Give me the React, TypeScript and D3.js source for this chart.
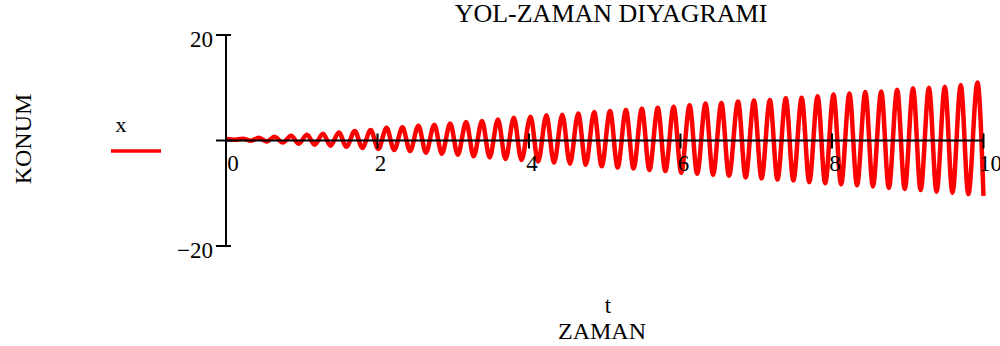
import * as d3 from "d3";

// peaks and troughs of the x(t) trace
const peakTimes = [0, 0.22, 0.43, 0.64, 0.86, 1.07, 1.28, 1.49, 1.7, 1.91, 2.12, 2.33, 2.54, 2.75, 2.96, 3.17, 3.38, 3.59, 3.8, 4.02, 4.23, 4.44, 4.65, 4.86, 5.07, 5.28, 5.49, 5.7, 5.91, 6.12, 6.33, 6.54, 6.76, 6.97, 7.18, 7.39, 7.6, 7.81, 8.02, 8.23, 8.44, 8.65, 8.86, 9.07, 9.28, 9.49, 9.7, 9.92];
const peakValues = [0.3, 0.35, 0.5, 0.7, 0.9, 1.1, 1.3, 1.5, 1.8, 2.0, 2.4, 2.5, 2.8, 3.0, 3.2, 3.5, 3.7, 4.0, 4.3, 4.5, 4.8, 4.9, 5.1, 5.4, 5.6, 5.8, 6.0, 6.2, 6.4, 6.7, 7.0, 7.1, 7.4, 7.6, 7.7, 8.0, 8.1, 8.4, 8.7, 8.9, 9.2, 9.3, 9.6, 9.9, 10.0, 10.2, 10.5, 11.0];
const troughTimes = [0.12, 0.33, 0.54, 0.75, 0.96, 1.17, 1.38, 1.59, 1.8, 2.01, 2.22, 2.43, 2.64, 2.85, 3.06, 3.27, 3.48, 3.69, 3.9, 4.12, 4.33, 4.54, 4.75, 4.96, 5.17, 5.38, 5.59, 5.8, 6.01, 6.22, 6.43, 6.64, 6.86, 7.07, 7.28, 7.49, 7.7, 7.91, 8.12, 8.33, 8.54, 8.75, 8.96, 9.17, 9.38, 9.59, 9.8, 10.0];
const troughValues = [0.15, -0.05, -0.2, -0.4, -0.6, -0.8, -1.0, -1.2, -1.4, -1.6, -1.8, -2.0, -2.3, -2.5, -2.7, -3.0, -3.2, -3.5, -3.7, -4.0, -4.2, -4.4, -4.6, -4.9, -5.1, -5.3, -5.6, -5.8, -6.1, -6.3, -6.5, -6.7, -7.0, -7.2, -7.4, -7.6, -7.9, -8.1, -8.3, -8.5, -8.7, -9.0, -9.2, -9.4, -9.7, -9.9, -10.2, -10.5];

const xTicks = [0, 2, 4, 6, 8, 10];
const yTicks = [-20, 0, 20];
const yLabels = [-20, 20];

const width = 1000;
const height = 346;
const font = "Liberation Serif, Tinos, Times New Roman, Times, DejaVu Serif, serif";

export default function App() {
  const x = d3.scaleLinear().domain([0, 10]).range([226, 983.5]);
  const y = d3.scaleLinear().domain([-20, 20]).range([246, 35]);

  const points: [number, number][] = [];
  peakTimes.forEach((t, i) => {
    points.push([t, peakValues[i]]);
    if (i < troughTimes.length) points.push([troughTimes[i], troughValues[i]]);
  });
  points.sort((a, b) => a[0] - b[0]);

  const line = d3.line<[number, number]>()
    .x(d => x(d[0]))
    .y(d => y(d[1]))
    .curve(d3.curveMonotoneX);

  const x0 = x(0);
  const y0 = y(0);
  const txt = { fontFamily: font };

  return (
    <svg width={width} height={height} style={{ position: "absolute", left: 0, top: 0 }}>
      <rect width={width} height={height} fill="#fff" />

      <text x={611} y={22} textAnchor="middle" style={txt} fontSize={26}>YOL-ZAMAN DIYAGRAMI</text>

      <path d={line(points) || ""} fill="none" stroke="#ff0000" strokeWidth={4.5} strokeLinejoin="round" />

      {/* axes */}
      <line x1={x0} x2={x0} y1={y(20)} y2={y(-20)} stroke="#000" strokeWidth={2} />
      <line x1={x0} x2={x(10)} y1={y0} y2={y0} stroke="#000" strokeWidth={2} />
      {yTicks.map(v => (
        <line key={v} x1={x0 - 10} x2={x0 + 5} y1={y(v)} y2={y(v)} stroke="#000" strokeWidth={2} />
      ))}
      {xTicks.filter(v => v > 0).map(v => (
        <line key={v} x1={x(v)} x2={x(v)} y1={y0 - 7} y2={y0 + 8} stroke="#000" strokeWidth={2} />
      ))}
      {yLabels.map(v => (
        <text key={v} x={x0 - 13} y={y(v) + 12} textAnchor="end" style={txt} fontSize={23}>
          {v < 0 ? "\u2212" + Math.abs(v) : v}
        </text>
      ))}
      {xTicks.map((v, i) => (
        <text key={v} x={x(v) + (i === 0 || i === xTicks.length - 1 ? 7 : 3)} y={171}
          textAnchor="middle" style={txt} fontSize={23}>{v}</text>
      ))}

      {/* legend */}
      <text x={121} y={132} textAnchor="middle" style={txt} fontSize={22}>x</text>
      <line x1={111} x2={161} y1={151} y2={151} stroke="#ff0000" strokeWidth={3.5} />

      <text transform="translate(31,139) rotate(-90)" textAnchor="middle" style={txt} fontSize={24}>KONUM</text>
      <text x={608} y={313} textAnchor="middle" style={txt} fontSize={23}>t</text>
      <text x={602} y={339} textAnchor="middle" style={txt} fontSize={24}>ZAMAN</text>
    </svg>
  );
}
